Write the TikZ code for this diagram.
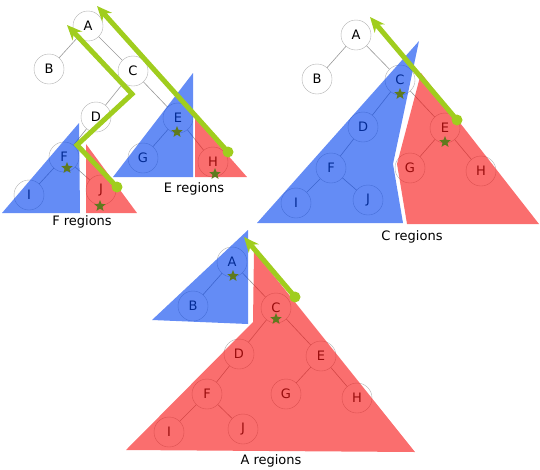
\documentclass[tikz,border=0pt]{standalone}
\usepackage{fontspec}
\setmainfont{DejaVu Sans}
\usetikzlibrary{shapes.geometric,arrows.meta}
\definecolor{regblue}{RGB}{5,69,239}
\definecolor{regred}{RGB}{247,21,21}
\definecolor{arrgreen}{RGB}{160,205,30}
\definecolor{stargreen}{RGB}{95,122,30}
\tikzset{
  tn/.style={circle,draw=gray!60,fill=white,minimum size=30pt,inner sep=0pt,font=\fontsize{13}{15}\selectfont},
  te/.style={draw=gray!80,line width=0.6pt},
  bluereg/.style={fill=regblue,fill opacity=0.62},
  redreg/.style={fill=regred,fill opacity=0.62},
  mk/.style={star,star points=5,star point ratio=2.3,fill=stargreen,minimum size=12pt,inner sep=0pt},
  grarrow/.style={draw=arrgreen,line width=5pt,-{Stealth[length=15pt,width=13pt]}},
  gdot/.style={circle,fill=arrgreen,minimum size=11pt,inner sep=0pt},
  lbl/.style={font=\fontsize{13}{15}\selectfont}
}
\begin{document}
\begin{tikzpicture}[x=1pt,y=-1pt]
\useasboundingbox (0,0) rectangle (540,469);
% ---------- tree 1 (F / E regions)
\node[tn] (pA) at (88,26) {A};
\node[tn] (pB) at (49,69) {B};
\node[tn] (pC) at (133,71) {C};
\node[tn] (pD) at (96,117) {D};
\node[tn] (pE) at (178,118) {E};
\node[tn] (pF) at (64,157) {F};
\node[tn] (pG) at (143,158) {G};
\node[tn] (pH) at (213,162) {H};
\node[tn] (pI) at (29,195) {I};
\node[tn] (pJ) at (101,190) {J};
\foreach \a/\b in {pA/pB,pA/pC,pC/pD,pC/pE,pD/pF,pE/pG,pE/pH,pF/pI,pF/pJ} \draw[te] (\a) -- (\b);
\fill[bluereg] (79,123) -- (2,213) -- (80,213) -- cycle;
\fill[redreg] (86,144) -- (86,213) -- (137,213) -- cycle;
\fill[bluereg] (193,73) -- (113,177) -- (193,177) -- cycle;
\fill[redreg] (195,118) -- (195,177) -- (247,177) -- cycle;
\node[mk] (sF) at (67,168) {};
\node[mk] (sJ) at (100,206) {};
\node[mk] (sE) at (177,132) {};
\node[mk] (sH) at (215,174) {};
\node[lbl] (lF) at (82,222) {F regions};
\node[lbl] (lE) at (194,189) {E regions};
\node[gdot] (d1) at (117,187) {};
\coordinate (k1) at (77,145);
\coordinate (k2) at (132,94);
\coordinate (t1) at (67,25);
\draw[grarrow] (d1.center) -- (k1) -- (k2) -- (t1);
\node[gdot] (d2) at (228,152) {};
\coordinate (t2) at (97,6);
\draw[grarrow] (d2.center) -- (t2);
% ---------- tree 2 (C regions)
\node[tn] (qA) at (356,35) {A};
\node[tn] (qB) at (317,79) {B};
\node[tn] (qC) at (400,80) {C};
\node[tn] (qD) at (363,127) {D};
\node[tn] (qE) at (445,128) {E};
\node[tn] (qF) at (331,168) {F};
\node[tn] (qG) at (410,168) {G};
\node[tn] (qH) at (481,171) {H};
\node[tn] (qI) at (296,203) {I};
\node[tn] (qJ) at (368,200) {J};
\foreach \a/\b in {qA/qB,qA/qC,qC/qD,qC/qE,qD/qF,qE/qG,qE/qH,qF/qI,qF/qJ} \draw[te] (\a) -- (\b);
\fill[bluereg] (419,41) -- (393,164) -- (403,223) -- (257,223) -- cycle;
\fill[redreg] (421,73) -- (539,224) -- (407,224) -- (397,164) -- cycle;
\node[mk] (sC2) at (400,94) {};
\node[mk] (sE2) at (445,142) {};
\node[lbl] (lC) at (412,237) {C regions};
\node[gdot] (d3) at (457,120) {};
\coordinate (t3) at (370,17);
\draw[grarrow] (d3.center) -- (t3);
% ---------- tree 3 (A regions)
\node[tn] (rA) at (232,262) {A};
\node[tn] (rB) at (193,306) {B};
\node[tn] (rC) at (276,308) {C};
\node[tn] (rD) at (239,354) {D};
\node[tn] (rE) at (321,356) {E};
\node[tn] (rF) at (207,394) {F};
\node[tn] (rG) at (286,394) {G};
\node[tn] (rH) at (357,398) {H};
\node[tn] (rI) at (169,432) {I};
\node[tn] (rJ) at (243,429) {J};
\foreach \a/\b in {rA/rB,rA/rC,rC/rD,rC/rE,rD/rF,rE/rG,rE/rH,rF/rI,rF/rJ} \draw[te] (\a) -- (\b);
\fill[bluereg] (248,230) -- (152,320) -- (248,324) -- cycle;
\fill[redreg] (254,251) -- (415,452) -- (126,450) -- (253,322) -- cycle;
\node[mk] (sA3) at (233,276) {};
\node[mk] (sC3) at (276,319) {};
\node[lbl] (lA) at (271,461) {A regions};
\node[gdot] (d4) at (295,297) {};
\coordinate (t4) at (244,237);
\draw[grarrow] (d4.center) -- (t4);
\end{tikzpicture}
\end{document}
